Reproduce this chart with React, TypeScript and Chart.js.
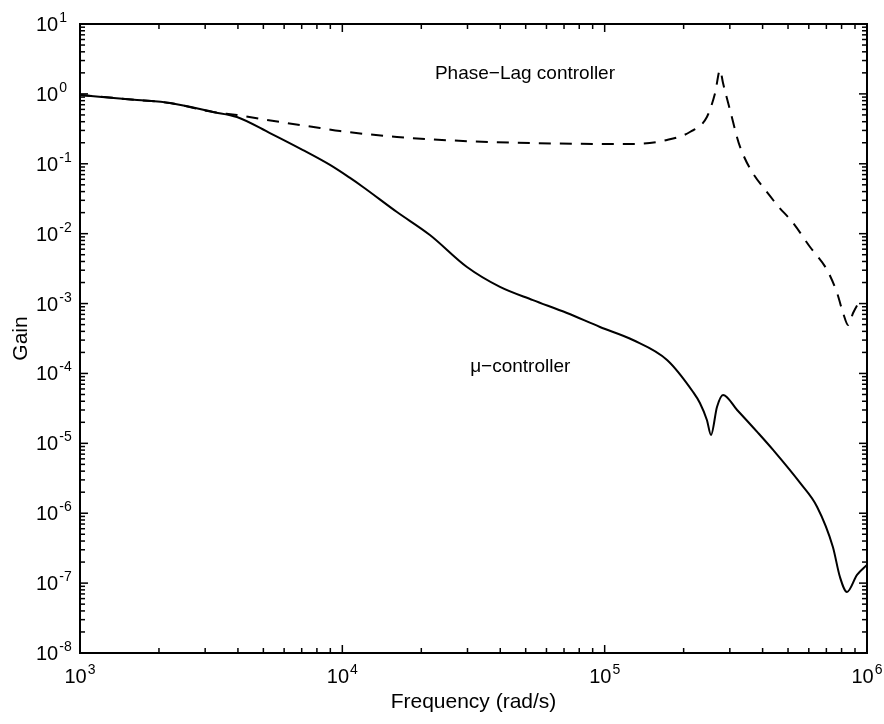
import React, { useEffect, useRef } from 'react';
import { Chart, registerables } from 'chart.js';

Chart.register(...registerables);

// μ-controller (solid)
const muFreq = [1000, 1650, 2203, 3214, 3965, 5297, 7080, 8975, 10700, 11990, 16150, 21570, 29860, 39890, 53290, 71830, 95950, 128200, 172900, 217300, 230700, 245300, 254300, 268000, 282600, 319800, 384400, 438600, 555900, 645600, 741300, 788800, 838900, 916000, 1000000];
const muGain = [0.963, 0.818, 0.741, 0.551, 0.467, 0.275, 0.157, 0.0962, 0.0627, 0.0466, 0.0204, 0.00957, 0.00333, 0.00173, 0.00112, 0.000733, 0.000462, 0.000301, 0.000156, 5.43e-5, 3.78e-5, 2.16e-5, 1.32e-5, 3.31e-5, 4.92e-5, 3.0e-5, 1.41e-5, 8.04e-6, 2.71e-6, 1.23e-6, 3.29e-7, 1.22e-7, 7.46e-8, 1.31e-7, 1.82e-7];

// Phase-Lag controller (dashed)
const lagFreq = [1000, 1650, 2203, 3214, 3965, 5781, 8222, 9800, 16150, 28840, 51900, 102000, 128200, 172900, 211300, 245300, 263600, 275400, 282600, 300500, 328200, 438600, 522700, 606600, 704600, 769100, 810900, 847200, 885000, 940500];
const lagGain = [0.963, 0.818, 0.741, 0.551, 0.499, 0.396, 0.325, 0.294, 0.242, 0.212, 0.198, 0.192, 0.192, 0.219, 0.285, 0.467, 1.03, 2.2, 1.43, 0.589, 0.174, 0.0303, 0.01422, 0.00644, 0.00302, 0.001415, 0.000733, 0.000493, 0.000733, 0.00112];

// decade ticks: base "10" with exponent
const xTickValues = [1e3, 1e4, 1e5, 1e6];
const xTickExps = ['3', '4', '5', '6'];
const yTickValues = [1e-8, 1e-7, 1e-6, 1e-5, 1e-4, 1e-3, 1e-2, 1e-1, 1e0, 1e1];
const yTickExps = ['-8', '-7', '-6', '-5', '-4', '-3', '-2', '-1', '0', '1'];

const lagLabel = 'Phase−Lag controller';
const lagLabelAt = [22540, 1.93];
const muLabel = 'μ−controller';
const muLabelAt = [30700, 1.24e-4];

const FONT = '"Liberation Sans", Arial, Helvetica, sans-serif';

const framePlugin = {
  id: 'frame',
  afterDraw(chart: any) {
    const { ctx, chartArea: a, scales } = chart;
    const xs = scales.x;
    const ys = scales.y;
    ctx.save();
    ctx.strokeStyle = '#000';
    ctx.lineWidth = 1.5;
    const line = (x1: number, y1: number, x2: number, y2: number) => {
      ctx.beginPath();
      ctx.moveTo(x1, y1);
      ctx.lineTo(x2, y2);
      ctx.stroke();
    };
    for (let e = 3; e <= 6; e++) {
      for (let m = 1; m <= 9; m++) {
        const v = m * Math.pow(10, e);
        if (v > 1e6 * 1.0001) break;
        const px = xs.getPixelForValue(v);
        const len = m === 1 ? 8 : 5;
        line(px, a.bottom, px, a.bottom - len);
        line(px, a.top, px, a.top + len);
      }
    }
    for (let e = -8; e <= 1; e++) {
      for (let m = 1; m <= 9; m++) {
        const v = m * Math.pow(10, e);
        if (v > 10 * 1.0001) break;
        const py = ys.getPixelForValue(v);
        const len = m === 1 ? 8 : 5;
        line(a.left, py, a.left + len, py);
        line(a.right, py, a.right - len, py);
      }
    }
    ctx.lineWidth = 2;
    ctx.strokeRect(a.left, a.top, a.right - a.left, a.bottom - a.top);

    // tick labels: 10 with superscript exponent
    ctx.fillStyle = '#000';
    ctx.textBaseline = 'alphabetic';
    ctx.textAlign = 'left';
    const big = `20px ${FONT}`;
    const small = `14px ${FONT}`;
    const drawPow = (exp: string, x: number, base: number) => {
      ctx.font = big;
      ctx.fillText('10', x, base);
      const w = ctx.measureText('10').width;
      ctx.font = small;
      ctx.fillText(exp, x + w + 1, base - 9);
    };
    const powWidth = (exp: string) => {
      ctx.font = big;
      const w = ctx.measureText('10').width;
      ctx.font = small;
      return w + 1 + ctx.measureText(exp).width;
    };
    yTickValues.forEach((v, i) => {
      const py = ys.getPixelForValue(v);
      drawPow(yTickExps[i], 36, py + 7);
    });
    xTickValues.forEach((v, i) => {
      const px = xs.getPixelForValue(v);
      const w = powWidth(xTickExps[i]);
      drawPow(xTickExps[i], px - w / 2, a.bottom + 30);
    });

    ctx.font = `19px ${FONT}`;
    ctx.textBaseline = 'middle';
    ctx.fillText(lagLabel, xs.getPixelForValue(lagLabelAt[0]), ys.getPixelForValue(lagLabelAt[1]));
    ctx.fillText(muLabel, xs.getPixelForValue(muLabelAt[0]), ys.getPixelForValue(muLabelAt[1]));
    ctx.restore();
  },
};

export default function App() {
  const ref = useRef<HTMLCanvasElement>(null);

  useEffect(() => {
    if (!ref.current) return;
    const chart = new Chart(ref.current, {
      type: 'line',
      data: {
        datasets: [
          {
            label: 'μ-controller',
            data: muFreq.map((f, i) => ({ x: f, y: muGain[i] })),
            borderColor: '#000',
            borderWidth: 2,
            pointRadius: 0,
            fill: false,
            cubicInterpolationMode: 'monotone',
          },
          {
            label: 'Phase-Lag controller',
            data: lagFreq.map((f, i) => ({ x: f, y: lagGain[i] })),
            borderColor: '#000',
            borderWidth: 2,
            borderDash: [12, 9],
            pointRadius: 0,
            fill: false,
            cubicInterpolationMode: 'monotone',
          },
        ],
      },
      options: {
        animation: false,
        responsive: false,
        layout: { padding: { top: 24, right: 17, left: 0, bottom: 0 } },
        plugins: {
          legend: { display: false },
          tooltip: { enabled: false },
        },
        scales: {
          x: {
            type: 'logarithmic',
            min: 1e3,
            max: 1e6,
            afterFit: (s: any) => {
              s.height = 71;
              s.paddingLeft = 0;
              s.paddingRight = 0;
            },
            ticks: { display: false },
            grid: { display: false, drawTicks: false },
            border: { display: false },
            title: {
              display: true,
              text: 'Frequency (rad/s)',
              font: { size: 21, family: FONT },
              color: '#000',
              padding: { top: 0, bottom: 9 },
            },
          },
          y: {
            type: 'logarithmic',
            min: 1e-8,
            max: 10,
            afterFit: (s: any) => {
              s.width = 80;
              s.paddingTop = 0;
              s.paddingBottom = 0;
            },
            ticks: { display: false },
            grid: { display: false, drawTicks: false },
            border: { display: false },
            title: {
              display: true,
              text: 'Gain',
              font: { size: 21, family: FONT },
              color: '#000',
              padding: { top: 9, bottom: 0 },
            },
          },
        },
      } as any,
      plugins: [framePlugin],
    });
    return () => chart.destroy();
  }, []);

  return (
    <div style={{ position: 'absolute', left: 0, top: 0, width: 884, height: 724, background: '#fff' }}>
      <canvas ref={ref} width={884} height={724} style={{ display: 'block' }} />
    </div>
  );
}
